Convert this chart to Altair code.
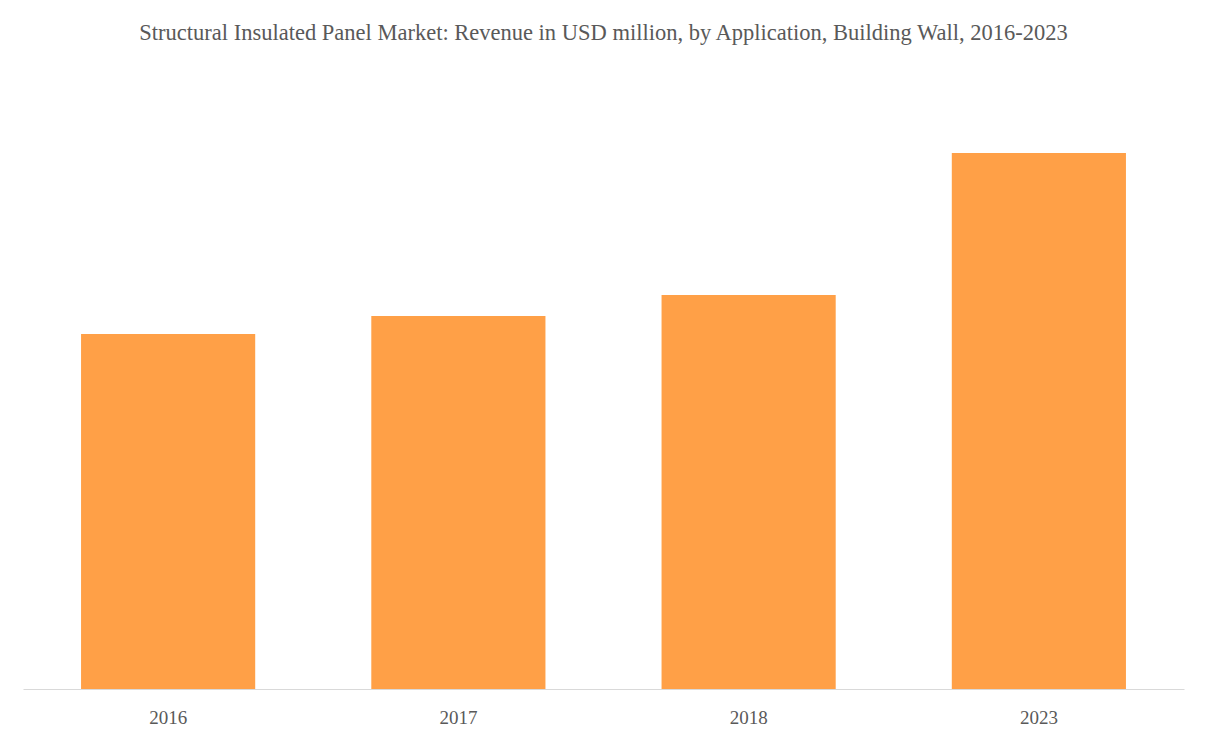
import altair as alt
import pandas as pd

years = ["2016", "2017", "2018", "2023"]
revenue = [355, 373, 394, 536]

df = pd.DataFrame({"year": years, "revenue": revenue})

chart = alt.Chart(df).mark_bar(color="#FFA047").encode(
    x=alt.X("year:N", sort=years, title=None,
            scale=alt.Scale(paddingInner=0.4, paddingOuter=0.2),
            axis=alt.Axis(labelAngle=0, labelFont="Liberation Serif", labelFontSize=19,
                          labelColor="#595959", labelPadding=19, ticks=False,
                          domainColor="#d9d9d9", domainWidth=1, grid=False)),
    y=alt.Y("revenue:Q", title=None, scale=alt.Scale(domain=[0, 600], nice=False),
            axis=None),
).properties(
    width=1161,
    height=600,
    title=alt.TitleParams(
        "Structural Insulated Panel Market: Revenue in USD million, by Application, Building Wall, 2016-2023",
        font="Liberation Serif", fontSize=22.5, fontWeight="normal", color="#595959",
        anchor="middle", offset=45),
    padding={"left": 15, "top": 13, "right": 10, "bottom": 10},
).configure_view(stroke=None)

chart.save("out.html", embed_options={"renderer": "svg", "actions": False})
